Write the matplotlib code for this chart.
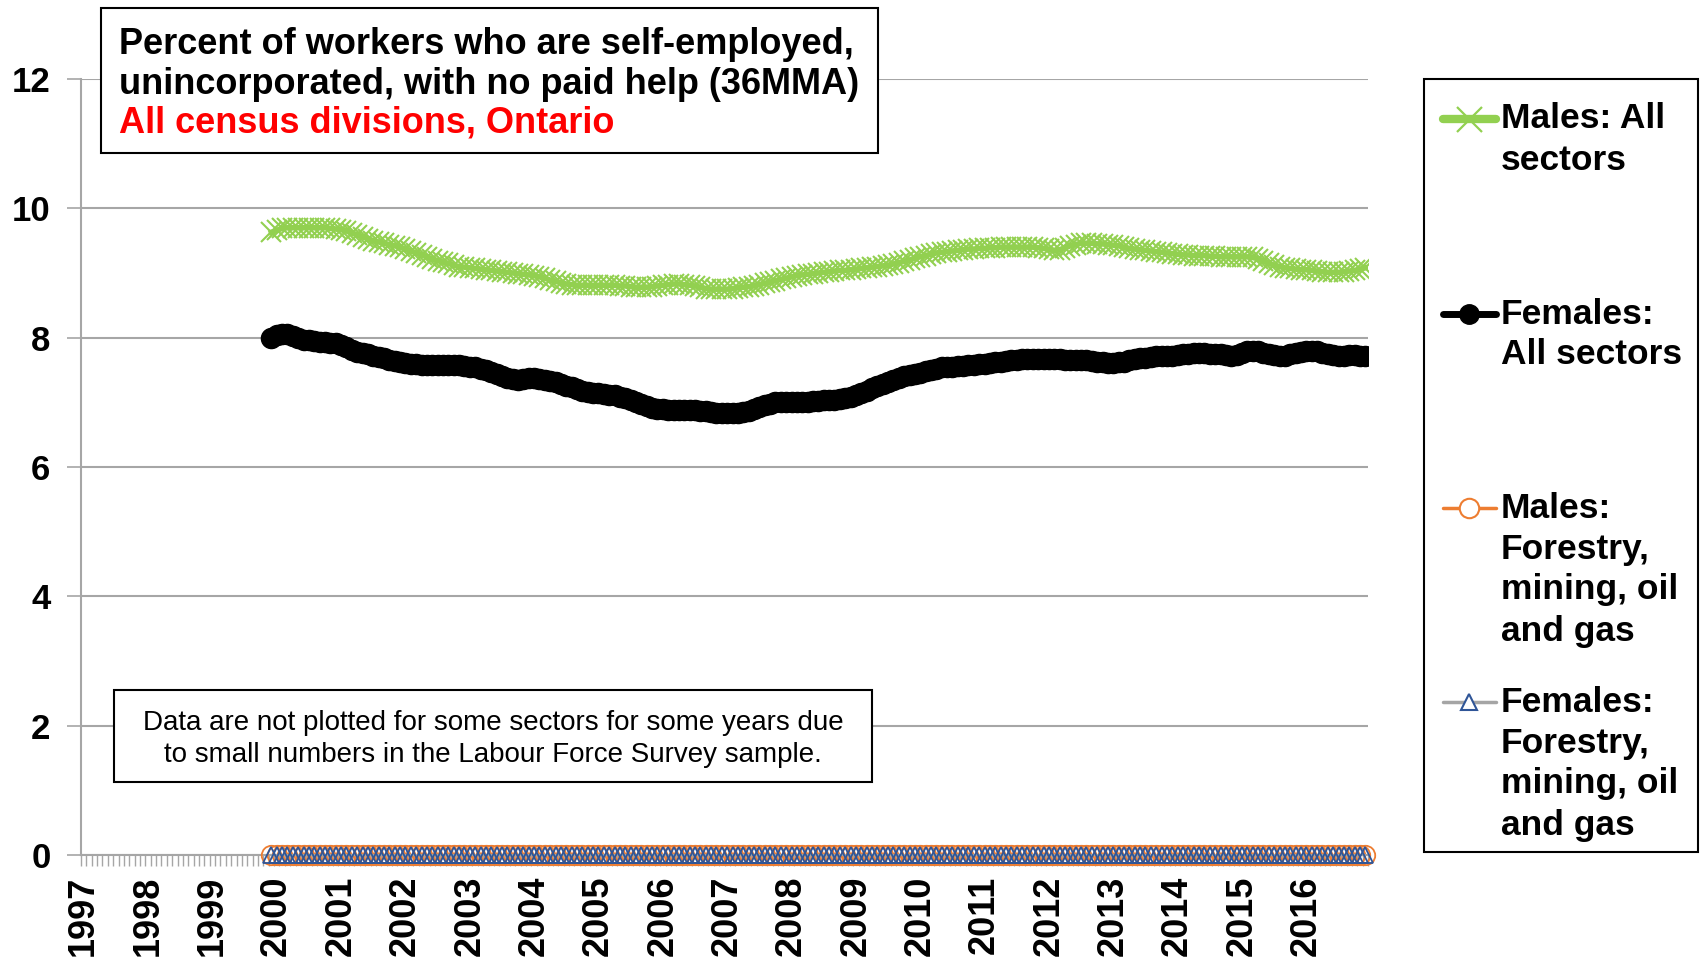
import numpy as np
import matplotlib
matplotlib.use("Agg")
import matplotlib.pyplot as plt
from matplotlib.patches import Rectangle
from matplotlib.lines import Line2D

plt.rcParams['font.family'] = ['Liberation Sans', 'DejaVu Sans']

# monthly 36-month moving averages, Dec 1999 .. Dec 2016
first_month = 35  # Dec 1999, counted from Jan 1997
males_all = [9.63,
    9.66, 9.69, 9.70, 9.70, 9.70, 9.70, 9.70, 9.70, 9.70, 9.70, 9.69, 9.68,   # 2000
    9.67, 9.65, 9.62, 9.59, 9.56, 9.53, 9.50, 9.48, 9.46, 9.44, 9.42, 9.40,   # 2001
    9.37, 9.34, 9.31, 9.28, 9.25, 9.22, 9.19, 9.17, 9.15, 9.12, 9.10, 9.09,   # 2002
    9.08, 9.07, 9.06, 9.05, 9.04, 9.03, 9.02, 9.01, 9.00, 8.99, 8.98, 8.97,   # 2003
    8.96, 8.94, 8.92, 8.89, 8.87, 8.85, 8.83, 8.82, 8.81, 8.81, 8.81, 8.81,   # 2004
    8.81, 8.81, 8.81, 8.81, 8.80, 8.80, 8.79, 8.78, 8.78, 8.78, 8.79, 8.80,   # 2005
    8.81, 8.82, 8.83, 8.83, 8.82, 8.81, 8.80, 8.78, 8.76, 8.75, 8.75, 8.75,   # 2006
    8.75, 8.76, 8.77, 8.78, 8.79, 8.80, 8.82, 8.84, 8.86, 8.88, 8.90, 8.92,   # 2007
    8.94, 8.96, 8.97, 8.98, 8.99, 9.00, 9.01, 9.02, 9.03, 9.04, 9.04, 9.05,   # 2008
    9.06, 9.07, 9.08, 9.09, 9.10, 9.11, 9.12, 9.14, 9.16, 9.18, 9.20, 9.23,   # 2009
    9.25, 9.27, 9.29, 9.31, 9.32, 9.33, 9.34, 9.35, 9.36, 9.37, 9.37, 9.38,   # 2010
    9.38, 9.39, 9.39, 9.40, 9.40, 9.40, 9.40, 9.40, 9.40, 9.40, 9.39, 9.38,   # 2011
    9.37, 9.35, 9.36, 9.39, 9.42, 9.44, 9.46, 9.46, 9.46, 9.45, 9.45, 9.44,   # 2012
    9.43, 9.42, 9.40, 9.38, 9.37, 9.36, 9.35, 9.34, 9.33, 9.32, 9.31, 9.30,   # 2013
    9.29, 9.28, 9.28, 9.27, 9.27, 9.27, 9.26, 9.26, 9.25, 9.25, 9.25, 9.25,   # 2014
    9.25, 9.25, 9.24, 9.22, 9.19, 9.15, 9.12, 9.10, 9.08, 9.07, 9.06, 9.05,   # 2015
    9.05, 9.04, 9.03, 9.02, 9.01, 9.01, 9.01, 9.02, 9.03, 9.04, 9.06, 9.08]   # 2016
females_all = [8.00,
    8.04, 8.06, 8.05, 8.02, 7.99, 7.97, 7.96, 7.95, 7.94, 7.93, 7.92, 7.91,   # 2000
    7.88, 7.85, 7.81, 7.78, 7.76, 7.74, 7.72, 7.70, 7.68, 7.66, 7.64, 7.62,   # 2001
    7.61, 7.60, 7.59, 7.58, 7.58, 7.58, 7.58, 7.57, 7.57, 7.57, 7.57, 7.56,   # 2002
    7.55, 7.54, 7.52, 7.50, 7.47, 7.44, 7.41, 7.38, 7.36, 7.35, 7.36, 7.37,   # 2003
    7.37, 7.36, 7.35, 7.33, 7.31, 7.29, 7.26, 7.23, 7.20, 7.18, 7.16, 7.15,   # 2004
    7.14, 7.13, 7.12, 7.11, 7.09, 7.06, 7.03, 7.00, 6.97, 6.94, 6.92, 6.90,   # 2005
    6.89, 6.88, 6.88, 6.88, 6.88, 6.88, 6.88, 6.87, 6.86, 6.85, 6.84, 6.84,   # 2006
    6.84, 6.84, 6.84, 6.85, 6.87, 6.90, 6.93, 6.96, 6.98, 7.00, 7.01, 7.01,   # 2007
    7.01, 7.01, 7.01, 7.01, 7.02, 7.02, 7.03, 7.03, 7.04, 7.05, 7.06, 7.08,   # 2008
    7.11, 7.14, 7.18, 7.22, 7.26, 7.29, 7.32, 7.35, 7.38, 7.40, 7.42, 7.44,   # 2009
    7.46, 7.48, 7.50, 7.52, 7.54, 7.55, 7.55, 7.56, 7.56, 7.57, 7.58, 7.59,   # 2010
    7.60, 7.61, 7.62, 7.63, 7.64, 7.65, 7.66, 7.67, 7.67, 7.67, 7.67, 7.67,   # 2011
    7.67, 7.67, 7.67, 7.66, 7.66, 7.66, 7.66, 7.65, 7.64, 7.63, 7.62, 7.61,   # 2012
    7.61, 7.62, 7.63, 7.65, 7.67, 7.68, 7.69, 7.70, 7.71, 7.71, 7.72, 7.72,   # 2013
    7.73, 7.74, 7.75, 7.76, 7.76, 7.76, 7.75, 7.75, 7.74, 7.73, 7.72, 7.73,   # 2014
    7.76, 7.79, 7.80, 7.79, 7.77, 7.75, 7.73, 7.72, 7.72, 7.74, 7.76, 7.78,   # 2015
    7.80, 7.80, 7.79, 7.77, 7.75, 7.73, 7.72, 7.72, 7.73, 7.73, 7.72, 7.72]   # 2016
males_forestry = [0.0] * 205
females_forestry = [0.0] * 205

years = list(range(1997, 2017))
y_ticks = [0, 2, 4, 6, 8, 10, 12]

title_lines = ["Percent of workers who are self-employed,",
               "unincorporated, with no paid help (36MMA)"]
subtitle = "All census divisions, Ontario"
note_lines = ["Data are not plotted for some sectors for some years due",
              "to small numbers in the Labour Force Survey sample."]
legend_labels = [["Males: All", "sectors"],
                 ["Females:", "All sectors"],
                 ["Males:", "Forestry,", "mining, oil", "and gas"],
                 ["Females:", "Forestry,", "mining, oil", "and gas"]]

W, H = 1700, 958
fig = plt.figure(figsize=(W / 100, H / 100), dpi=100)


def fx(px):
    return px / W


def fy(py):
    return 1 - py / H


ax = fig.add_axes([fx(81), fy(855), fx(1368) - fx(81), fy(79) - fy(855)])

x = np.arange(first_month, first_month + len(males_all))
green = '#92D050'
ax.plot(x, males_all, color=green, lw=4, marker='x', ms=15, mew=1.5, zorder=3)
ax.plot(x, females_all, color='black', lw=4, marker='o', ms=14.5, zorder=4)
ax.plot(x, males_forestry, color='#ED7D31', lw=1.5, marker='o', ms=14,
        mfc='none', mec='#ED7D31', mew=1.3, zorder=5, clip_on=False)
ax.plot(x, females_forestry, color='#A5A5A5', lw=1.5, marker='^', ms=12,
        mfc='none', mec='#2F5597', mew=1.3, zorder=6, clip_on=False)

ax.set_xlim(-0.5, 239.5)
ax.set_ylim(0, 12)
ax.set_yticks(y_ticks)
ax.set_yticklabels([str(v) for v in y_ticks], fontsize=25, fontweight='bold')
ax.set_xticks([12 * i for i in range(len(years))])
ax.set_xticklabels([str(y) for y in years], rotation=90, fontsize=26,
                   fontweight='bold', va='top')
ax.set_xticks(np.arange(-0.5, 240, 1), minor=True)
ax.tick_params(axis='x', which='major', length=0, pad=15)
ax.tick_params(axis='x', which='minor', length=8, width=1, color='#A6A6A6')
ax.tick_params(axis='y', length=10, width=1.2, color='#A6A6A6', pad=12)
ax.grid(axis='y', color='#A6A6A6', lw=1.5)
ax.set_axisbelow(True)
for s in ['top', 'right']:
    ax.spines[s].set_visible(False)
for s in ['left', 'bottom']:
    ax.spines[s].set_color('#A6A6A6')
    ax.spines[s].set_linewidth(1.5)

# title box
fig.add_artist(Rectangle((fx(101), fy(153)), fx(878) - fx(101), fy(8) - fy(153),
                         transform=fig.transFigure, fc='white', ec='black', lw=1.5))
for i, line in enumerate(title_lines):
    fig.text(fx(119), fy(44 + 40 * i), line, fontsize=26, fontweight='bold',
             va='center', ha='left')
fig.text(fx(119), fy(123), subtitle, fontsize=26, fontweight='bold',
         color='#FF0000', va='center', ha='left')

# note box
fig.add_artist(Rectangle((fx(114), fy(782)), fx(872) - fx(114), fy(690) - fy(782),
                         transform=fig.transFigure, fc='white', ec='black', lw=1.5))
for i, line in enumerate(note_lines):
    fig.text(fx(493), fy(723 + 32 * i), line, fontsize=20, va='center', ha='center')

# legend box
fig.add_artist(Rectangle((fx(1424), fy(852)), fx(1698) - fx(1424), fy(79) - fy(852),
                         transform=fig.transFigure, fc='white', ec='black', lw=1.5))
handles = [dict(color=green, lw=6, marker='x', ms=18, mew=1.6, mfc=green, mec=green),
           dict(color='black', lw=5, marker='o', ms=14, mfc='black', mec='black', mew=1),
           dict(color='#ED7D31', lw=2.5, marker='o', ms=14, mfc='white', mec='#ED7D31', mew=1.5),
           dict(color='#A5A5A5', lw=2.5, marker='^', ms=12, mfc='white', mec='#2F5597', mew=1.5)]
entry_top = [119, 314, 508, 702]
for top, lines, h in zip(entry_top, legend_labels, handles):
    fig.add_artist(Line2D([fx(1443), fx(1496)], [fy(top), fy(top)],
                          transform=fig.transFigure, solid_capstyle='round',
                          color=h['color'], lw=h['lw']))
    fig.add_artist(Line2D([fx(1469)], [fy(top)], transform=fig.transFigure,
                          lw=0, marker=h['marker'], ms=h['ms'], mfc=h['mfc'],
                          mec=h['mec'], mew=h['mew']))
    for j, line in enumerate(lines):
        fig.text(fx(1501), fy(top + 41 * j), line, fontsize=25.5, fontweight='bold',
                 va='center', ha='left')

fig.savefig('out.png', dpi=100)
